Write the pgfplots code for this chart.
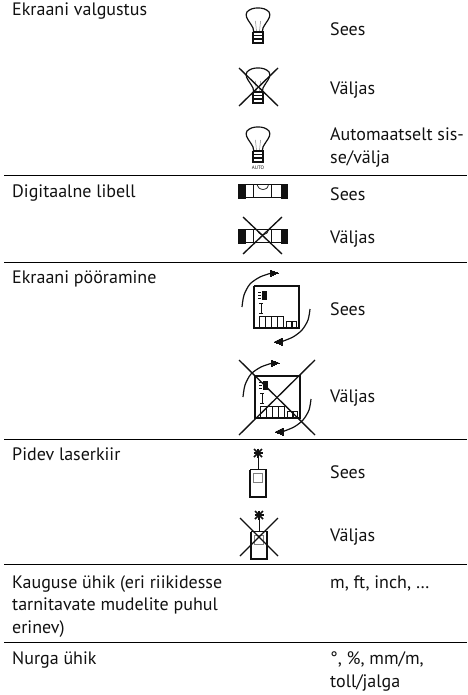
\documentclass[border=0pt]{standalone}
\usepackage{fontspec}
\setmainfont{PT Sans}
\usepackage{pgfplots}
\pgfplotsset{compat=1.18}
\definecolor{ink}{HTML}{111111}
\newcommand\PL[2][]{\addplot[ink,no markers,line width=1.2pt,#1] coordinates {#2};}
\newcommand\TXT[3]{\node[anchor=base west,inner sep=0pt,text=ink,font=\fontsize{18}{21}\selectfont] at (axis cs:#1,#2) {#3};}
\newcommand\CROSS[4]{\PL[line width=1.35pt]{(#1,#2)(#3,#4)}\PL[line width=1.35pt]{(#1,#4)(#3,#2)}}
\newcommand\BULB[2]{%
 \PL[smooth,tension=0.6,xshift=#1pt,yshift=-#2pt]{(-4.5,24)(-5,20)(-8,15)(-11.5,9)(-11,4)(-6,0.8)(0,0)(6,0.8)(11,4)(11.5,9)(8,15)(5,20)(4.5,24)}
 \PL[line width=0.5pt,color=gray,xshift=#1pt,yshift=-#2pt]{(-2.5,13)(-1.5,24)}
 \PL[line width=0.5pt,color=gray,xshift=#1pt,yshift=-#2pt]{(2.5,13)(1.5,24)}
 \PL[xshift=#1pt,yshift=-#2pt]{(-5,24)(5,24)(5,35.5)(-5,35.5)(-5,24)}
 \PL[line width=1.4pt,xshift=#1pt,yshift=-#2pt]{(-5,27.5)(5,27.5)}
 \PL[line width=1.4pt,xshift=#1pt,yshift=-#2pt]{(-5,31)(5,31)}
 \PL[line width=1.4pt,xshift=#1pt,yshift=-#2pt]{(-5,34.5)(5,34.5)}
}
\newcommand\LEVEL[1]{%
 \PL[yshift=-#1pt,line width=0.9pt]{(238,0.4)(287,0.4)}
 \PL[yshift=-#1pt,line width=0.9pt]{(238,13.6)(287,13.6)}
 \PL[yshift=-#1pt,line width=0pt,fill=ink]{(238,0)(245,0)(245,14)(238,14)(238,0)}
 \PL[yshift=-#1pt,line width=0pt,fill=ink]{(281,0)(287,0)(287,14)(281,14)(281,0)}
 \PL[yshift=-#1pt,line width=0.8pt]{(253.3,0)(253.3,14)}
 \PL[yshift=-#1pt,line width=0.8pt]{(271.7,0)(271.7,14)}
 \PL[yshift=-#1pt,line width=0.7pt,smooth]{(257,0.5)(259,4)(263,5.5)(267,4)(268.5,0.5)}
}
\newcommand\DISP[2]{%
 \PL[xshift=#1pt,yshift=-#2pt,smooth]{(242,307)(244,295)(250,284)(260,277)(270,273.5)}
 \PL[xshift=#1pt,yshift=-#2pt,line width=0pt,fill=ink]{(278,273)(270,270)(270,276.5)(278,273)}
 \PL[xshift=#1pt,yshift=-#2pt,smooth]{(310,309)(308,320)(302,330)(293,337)(282,341.5)}
 \PL[xshift=#1pt,yshift=-#2pt,line width=0pt,fill=ink]{(274,342)(282,338)(282,345)(274,342)}
 \PL[xshift=#1pt,yshift=-#2pt,line width=1.5pt]{(254,286)(299,286)(299,328)(254,328)(254,286)}
 \PL[xshift=#1pt,yshift=-#2pt,line width=0pt,fill=ink]{(262,291)(266,291)(266,299)(262,299)(262,291)}
 \PL[xshift=#1pt,yshift=-#2pt,line width=0.7pt]{(258,292)(260.5,292)}
 \PL[xshift=#1pt,yshift=-#2pt,line width=0.7pt]{(258,295)(260.5,295)}
 \PL[xshift=#1pt,yshift=-#2pt,line width=0.7pt]{(258,298)(260.5,298)}
 \PL[xshift=#1pt,yshift=-#2pt,line width=0.7pt]{(261,303)(261,313)}
 \PL[xshift=#1pt,yshift=-#2pt,line width=0.7pt]{(259,303)(263,303)}
 \PL[xshift=#1pt,yshift=-#2pt,line width=0.7pt]{(259,313)(263,313)}
 \PL[xshift=#1pt,yshift=-#2pt,line width=0.9pt]{(259.5,316)(265,316)(265,327)(259.5,327)(259.5,316)}
 \PL[xshift=#1pt,yshift=-#2pt,line width=0.9pt]{(265.8,316)(271,316)(271,327)(265.8,327)(265.8,316)}
 \PL[xshift=#1pt,yshift=-#2pt,line width=0.9pt]{(271.8,316)(277,316)(277,327)(271.8,327)(271.8,316)}
 \PL[xshift=#1pt,yshift=-#2pt,line width=0.9pt]{(277.8,316)(283.3,316)(283.3,327)(277.8,327)(277.8,316)}
 \PL[xshift=#1pt,yshift=-#2pt,line width=0.8pt]{(286.7,321)(291,321)(291,327)(286.7,327)(286.7,321)}
 \PL[xshift=#1pt,yshift=-#2pt,line width=0.8pt]{(292.3,321)(296.7,321)(296.7,327)(292.3,327)(292.3,321)}
}
\newcommand\LASER[2]{%
 \PL[xshift=#1pt,yshift=-#2pt,line width=1.5pt]{(254,449)(262,457)}
 \PL[xshift=#1pt,yshift=-#2pt,line width=1.5pt]{(254,457)(262,449)}
 \PL[xshift=#1pt,yshift=-#2pt,line width=1.2pt]{(253.5,453)(262.5,453)}
 \PL[xshift=#1pt,yshift=-#2pt,line width=1.2pt]{(258,448.5)(258,457.5)}
 \PL[xshift=#1pt,yshift=-#2pt,line width=1pt]{(258,458)(258,469)}
 \PL[xshift=#1pt,yshift=-#2pt,line width=1.5pt]{(250,469.5)(266,469.5)(266,497)(250,497)(250,469.5)}
 \PL[xshift=#1pt,yshift=-#2pt,line width=0.7pt,color=gray]{(253,473)(262.5,473)(262.5,482)(253,482)(253,473)}
}
\begin{document}
\begin{tikzpicture}
\useasboundingbox (0,0) rectangle (467pt,695pt);
\begin{axis}[at={(0,0)},anchor=south west,scale only axis,width=467pt,height=695pt,
  xmin=0,xmax=467,ymin=0,ymax=695,y dir=reverse,hide axis,clip=false]
% rules
\PL[line width=1pt,color=black]{(4,175)(467,175)}
\PL[line width=1pt,color=black]{(4,262)(467,262)}
\PL[line width=1pt,color=black]{(4,439)(467,439)}
\PL[line width=1pt,color=black]{(4,564)(467,564)}
\PL[line width=1pt,color=black]{(4,642)(467,642)}
% left column
\TXT{12}{16}{Ekraani valgustus}
\TXT{12}{197}{Digitaalne libell}
\TXT{12}{283}{Ekraani pööramine}
\TXT{12}{460}{Pidev laserkiir}
\TXT{12}{588}{Kauguse ühik (eri riikidesse}
\TXT{12}{610}{tarnitavate mudelite puhul}
\TXT{12}{633}{erinev)}
\TXT{12}{664}{Nurga ühik}
% right column
\TXT{330}{36}{Sees}
\TXT{330}{95}{Väljas}
\TXT{330}{141}{Automaatselt sis-}
\TXT{330}{164}{se/välja}
\TXT{330}{200}{Sees}
\TXT{330}{243}{Väljas}
\TXT{330}{315}{Sees}
\TXT{330}{402}{Väljas}
\TXT{330}{478}{Sees}
\TXT{330}{541}{Väljas}
\TXT{330}{588}{m, ft, inch, \dots}
\TXT{330}{664}{°, \%, mm/m,}
\TXT{330}{687}{toll/jalga}
% lamp icons
\BULB{258}{8}
\BULB{258}{68}
\CROSS{239}{68}{278}{106}
\BULB{258}{127}
\node[anchor=base,inner sep=0pt,text=ink,font=\fontsize{5}{6}\selectfont] at (axis cs:258,170) {AUTO};
% level icons
\LEVEL{184}
\LEVEL{229}
\CROSS{243}{217}{282}{254}
% display icons
\DISP{0}{0}
\DISP{1}{90}
\CROSS{239}{360}{315}{435}
% laser icons
\LASER{0}{0}
\LASER{1}{62}
\CROSS{240}{518}{278}{556}
\end{axis}
\end{tikzpicture}
\end{document}
